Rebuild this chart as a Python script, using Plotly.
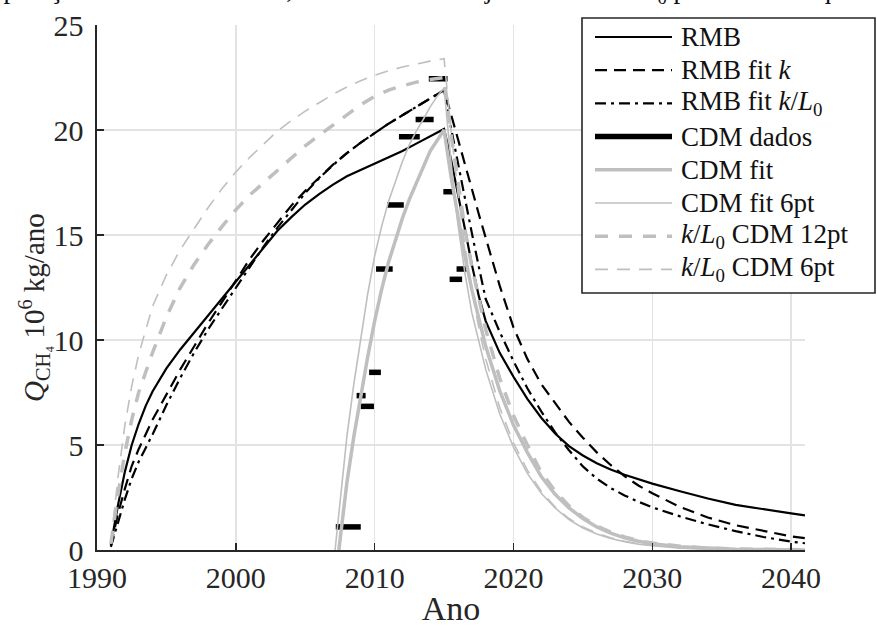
import plotly.graph_objects as go

# ---------------- data ----------------
years_rmb = [1991, 1991.5, 1992, 1992.5, 1993, 1993.5, 1994, 1995, 1996, 1997, 1998, 1999, 2000,
             2001, 2002, 2003, 2004, 2005, 2006, 2007, 2008, 2009, 2010, 2011, 2012,
             2013, 2014, 2015, 2015.5, 2016, 2016.5, 2017, 2017.5, 2018, 2019, 2020,
             2021, 2022, 2023, 2024, 2025, 2026, 2027, 2028, 2029, 2030, 2032, 2034,
             2036, 2038, 2040, 2041]

rmb = [0.24, 2.1, 3.7, 5.0, 6.0, 6.85, 7.55, 8.65, 9.55, 10.35, 11.15, 11.95, 12.75,
       13.6, 14.4, 15.2, 15.85, 16.45, 16.95, 17.4, 17.8, 18.1, 18.4, 18.7, 19.0,
       19.35, 19.7, 20.05, 18.6, 17.0, 15.3, 13.6, 12.1, 10.9, 9.4, 8.25,
       7.2, 6.3, 5.55, 4.95, 4.5, 4.13, 3.83, 3.58, 3.36, 3.16, 2.8, 2.45,
       2.15, 1.93, 1.74, 1.65]

rmb_fit_k = [0.2, 1.7, 2.9, 4.0, 4.8, 5.5, 6.2, 7.4, 8.6, 9.7, 10.8, 11.8, 12.8,
             13.85, 14.75, 15.6, 16.4, 17.1, 17.75, 18.35, 18.9, 19.4, 19.85, 20.3, 20.7,
             21.1, 21.5, 21.9, 20.75, 19.6, 18.4, 17.2, 16.0, 14.9, 12.6, 10.6,
             9.1, 7.9, 7.0, 6.1, 5.35, 4.65, 4.05, 3.52, 3.07, 2.7, 2.05, 1.55,
             1.18, 0.9, 0.65, 0.56]

rmb_fit_kl0 = [0.15, 1.3, 2.4, 3.4, 4.2, 4.85, 5.5, 6.9, 8.2, 9.4, 10.5, 11.5, 12.5,
               13.5, 14.45, 15.35, 16.2, 17.0, 17.7, 18.33, 18.9, 19.4, 19.85, 20.3, 20.7,
               21.1, 21.5, 21.9, 20.1, 18.4, 16.7, 15.1, 13.5, 11.95, 10.4, 9.0,
               7.7, 6.6, 5.6, 4.75, 3.98, 3.4, 2.95, 2.6, 2.3, 2.03, 1.6, 1.22,
               0.9, 0.62, 0.4, 0.32]

kl0_cdm_12pt = [0.3, 2.6, 4.6, 6.2, 7.5, 8.5, 9.4, 11.1, 12.5, 13.6, 14.55, 15.4, 16.2,
                16.9, 17.5, 18.1, 18.7, 19.25, 19.75, 20.25, 20.75, 21.2, 21.6, 21.9, 22.1,
                22.28, 22.4, 22.5, 19.8, 17.4, 15.3, 13.5, 11.9, 10.5, 8.2, 6.4,
                5.0, 3.7, 2.8, 2.1, 1.55, 1.15, 0.85, 0.62, 0.45, 0.33, 0.18, 0.09,
                0.05, 0.03, 0.02, 0.01]

kl0_cdm_6pt = [0.3, 3.4, 5.9, 7.8, 9.3, 10.5, 11.6, 13.1, 14.3, 15.3, 16.3, 17.2, 18.0,
               18.7, 19.35, 19.95, 20.45, 20.9, 21.3, 21.7, 22.05, 22.35, 22.6, 22.82, 23.0,
               23.15, 23.28, 23.4, 20.0, 17.0, 14.5, 12.4, 10.6, 9.1, 6.8, 5.1,
               3.8, 2.8, 2.05, 1.5, 1.1, 0.8, 0.58, 0.42, 0.3, 0.22, 0.11, 0.05,
               0.03, 0.01, 0.0, 0.0]

years_cdm_fit = [2007.42, 2007.6, 2008, 2008.5, 2009, 2009.5, 2010, 2010.5, 2011, 2011.5,
                 2012, 2012.5, 2013, 2013.5, 2014, 2014.5, 2015, 2015.5, 2016, 2016.5,
                 2017, 2018, 2019, 2020, 2021, 2022, 2023, 2024, 2025, 2026, 2027,
                 2028, 2029, 2030, 2032, 2034, 2036, 2038, 2040, 2041]
cdm_fit = [0, 1.1, 3.2, 5.4, 7.4, 9.2, 10.9, 12.4, 13.7, 14.8,
           15.8, 16.7, 17.5, 18.3, 19.0, 19.5, 20.0, 17.8, 15.8, 14.0,
           12.4, 9.7, 7.6, 5.95, 4.65, 3.5, 2.65, 2.0, 1.5, 1.1, 0.8,
           0.58, 0.42, 0.3, 0.16, 0.08, 0.04, 0.02, 0.01, 0.0]

years_cdm_fit6 = [2007.15, 2007.3, 2007.5, 2008, 2008.5, 2009, 2009.5, 2010, 2010.5, 2011,
                  2011.5, 2012, 2012.5, 2013, 2013.5, 2014, 2014.5, 2015, 2015.5, 2016,
                  2016.5, 2017, 2018, 2019, 2020, 2021, 2022, 2023, 2024, 2025, 2026,
                  2027, 2028, 2029, 2030, 2032, 2034, 2036, 2038, 2040, 2041]
cdm_fit_6pt = [0, 1.0, 2.3, 5.4, 7.9, 10.1, 12.2, 14.0, 15.4, 16.6,
               17.6, 18.5, 19.3, 19.95, 20.5, 21.1, 21.6, 22.0, 18.5, 15.5,
               13.2, 11.3, 8.6, 6.5, 4.9, 3.65, 2.7, 2.0, 1.45, 1.05, 0.76,
               0.55, 0.4, 0.28, 0.2, 0.09, 0.04, 0.02, 0.01, 0.0, 0.0]

# CDM reported data: periods (start, end) and value
cdm_start = [2007.2, 2008.7, 2009.0, 2009.6, 2010.1, 2010.9, 2011.75, 2012.95, 2013.9, 2014.95, 2015.4, 2015.9]
cdm_end = [2009.0, 2009.35, 2009.95, 2010.45, 2011.3, 2012.1, 2013.25, 2014.25, 2015.25, 2015.7, 2016.3, 2016.8]
cdm_value = [1.1, 7.35, 6.84, 8.46, 13.38, 16.43, 19.68, 20.5, 22.44, 17.06, 12.89, 13.38]

legend_labels = ["RMB", "RMB fit <i>k</i>", "RMB fit <i>k</i>/<i>L</i><sub>0</sub>", "CDM dados",
                 "CDM fit", "CDM fit 6pt", "<i>k</i>/<i>L</i><sub>0</sub> CDM 12pt",
                 "<i>k</i>/<i>L</i><sub>0</sub> CDM 6pt"]

x_ticks = [1990, 2000, 2010, 2020, 2030, 2040]
y_ticks = [0, 5, 10, 15, 20, 25]

# ---------------- styles ----------------
FONT = "Liberation Serif"
BLACK = "#000000"
GRAY = "#bfbfbf"
AXC = "#262626"
styles = [
    dict(color=BLACK, width=2.2, dash="solid"),
    dict(color=BLACK, width=2.2, dash="12px,7px"),
    dict(color=BLACK, width=2.2, dash="11px,5px,3px,5px"),
    dict(color=BLACK, width=5.5, dash="solid"),
    dict(color=GRAY, width=3.5, dash="solid"),
    dict(color=GRAY, width=1.6, dash="solid"),
    dict(color=GRAY, width=3.5, dash="13px,11px"),
    dict(color=GRAY, width=1.6, dash="13px,9px"),
]

seg_x, seg_y = [], []
for s, e, v in zip(cdm_start, cdm_end, cdm_value):
    seg_x += [s, e, None]
    seg_y += [v, v, None]

series = [
    (years_rmb, rmb),
    (years_rmb, rmb_fit_k),
    (years_rmb, rmb_fit_kl0),
    (seg_x, seg_y),
    (years_cdm_fit, cdm_fit),
    (years_cdm_fit6, cdm_fit_6pt),
    (years_rmb, kl0_cdm_12pt),
    (years_rmb, kl0_cdm_6pt),
]

fig = go.Figure()
for (xs, ys), st, lab in zip(series, styles, legend_labels):
    fig.add_trace(go.Scatter(x=xs, y=ys, mode="lines", name=lab, line=st,
                             showlegend=False, connectgaps=False, hoverinfo="skip"))

W, H = 877, 627
ML, MR, MT, MB = 97, 72, 25, 77
PW, PH = W - ML - MR, H - MT - MB


def px2paper(px, py):
    return (px - ML) / PW, (H - MB - py) / PH


shapes = []
annotations = []
# legend box
bx0, by0 = px2paper(582, 293)
bx1, by1 = px2paper(875, 18)
shapes.append(dict(type="rect", xref="paper", yref="paper", x0=bx0, y0=by0, x1=bx1, y1=by1,
                   line=dict(color=AXC, width=1.6), fillcolor="white", layer="above"))
for i, (lab, st) in enumerate(zip(legend_labels, styles)):
    py = 37 + 33.2 * i
    lx0, ly = px2paper(595, py)
    lx1, _ = px2paper(672, py)
    shapes.append(dict(type="line", xref="paper", yref="paper", x0=lx0, x1=lx1, y0=ly, y1=ly,
                       line=dict(color=st["color"], width=st["width"], dash=st["dash"]),
                       layer="above"))
    tx, _ = px2paper(679, py)
    annotations.append(dict(x=tx, y=ly, xref="paper", yref="paper", text=lab, showarrow=False,
                            xanchor="left", yanchor="middle",
                            font=dict(family=FONT, size=27, color="#111111")))

# partially visible heading cut by the top edge
tx, ty = px2paper(440, 10)
annotations.append(dict(x=tx, y=ty, xref="paper", yref="paper",
                        text="Comparação entre dados CDM, modelo RMB e ajustes de <i>k</i> e <i>k</i>/<i>L</i><sub>0</sub> por mínimos quadrados",
                        showarrow=False, xanchor="center", yanchor="bottom",
                        font=dict(family=FONT, size=27, color="#111111")))

# y-axis title (placed as rotated text, as in the reference)
tx, ty = px2paper(34, 308)
annotations.append(dict(x=tx, y=ty, xref="paper", yref="paper",
                        text="<i>Q</i><sub>CH₄</sub> 10<sup>6</sup> kg/ano",
                        showarrow=False, textangle=-90, xanchor="center", yanchor="middle",
                        font=dict(family=FONT, size=29, color="#262626")))

fig.update_layout(
    width=W, height=H,
    margin=dict(l=ML, r=MR, t=MT, b=MB, autoexpand=False),
    paper_bgcolor="white", plot_bgcolor="white",
    font=dict(family=FONT, size=30, color="#262626"),
    shapes=shapes, annotations=annotations,
    showlegend=False, hovermode=False,
)
fig.update_xaxes(range=[1990, 2041], tickvals=x_ticks, ticktext=[str(v) for v in x_ticks],
                 showgrid=True, gridcolor="#e3e3e3", gridwidth=1.5,
                 showline=True, linecolor=AXC, linewidth=1.6, mirror=False,
                 ticks="inside", ticklen=7, tickwidth=1.5, tickcolor=AXC,
                 zeroline=False, tickfont=dict(family=FONT, size=30, color="#262626"),
                 automargin=False,
                 title=dict(text="Ano", font=dict(family=FONT, size=34, color="#262626"), standoff=10))
fig.update_yaxes(range=[0, 25], tickvals=y_ticks, ticktext=[str(v) for v in y_ticks],
                 showgrid=True, gridcolor="#e3e3e3", gridwidth=1.5,
                 showline=True, linecolor=AXC, linewidth=1.6, mirror=False,
                 ticks="inside", ticklen=7, tickwidth=1.5, tickcolor=AXC,
                 zeroline=False, tickfont=dict(family=FONT, size=30, color="#262626"),
                 automargin=False, ticklabelstandoff=6)

fig.write_html("out.html", config={"displayModeBar": False, "staticPlot": True},
               post_script="document.body.style.margin='0px';document.body.style.overflow='hidden';")
